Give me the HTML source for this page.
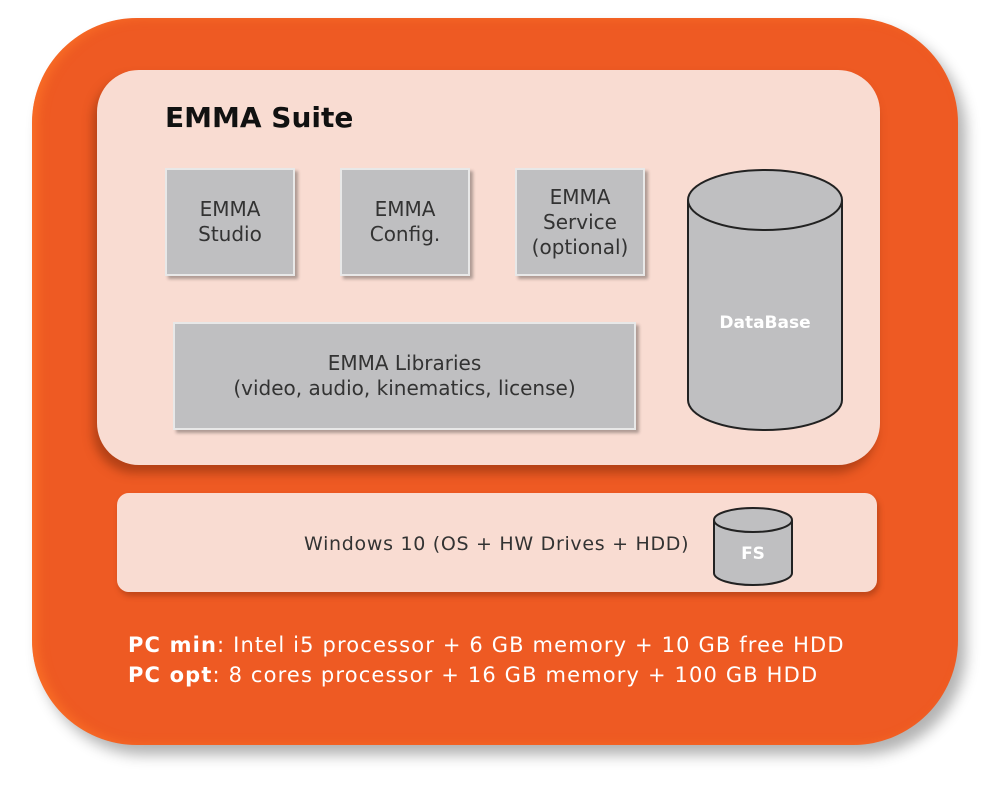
<!DOCTYPE html>
<html><head><style>
body{margin:0;width:1000px;height:786px;background:#fff;position:relative;overflow:hidden;font-family:"DejaVu Sans","Liberation Sans",sans-serif}
.abs{position:absolute}
.outer{left:32px;top:18px;width:926px;height:727px;border-radius:105px;background:#ee5a23;box-shadow:8px 10px 14px rgba(0,0,0,.3), inset 6px 0 10px rgba(255,120,40,.6)}
.suite{left:97px;top:70px;width:783px;height:395px;border-radius:42px;background:#f9dcd2;box-shadow:-4px 8px 10px rgba(120,40,10,.5)}
.win{left:117px;top:493px;width:760px;height:99px;border-radius:12px;background:#f9dcd2;box-shadow:2px 4px 6px rgba(120,40,10,.4)}
.box{background:#bfbfc1;border:2px solid #e8e8e8;box-shadow:3px 3px 3px rgba(0,0,0,.3);display:flex;align-items:center;justify-content:center;text-align:center;color:#333;font-size:20px;line-height:25px;box-sizing:border-box;white-space:nowrap}
.t{color:#fff;font-size:21px;letter-spacing:1.15px;white-space:nowrap}
</style></head><body>
<div class="abs outer"></div>
<div class="abs suite"></div>
<div class="abs" style="left:165px;top:101px;font-size:28px;font-weight:bold;color:#111">EMMA Suite</div>
<div class="abs box" style="left:165px;top:168px;width:130px;height:108px">EMMA<br>Studio</div>
<div class="abs box" style="left:340px;top:168px;width:130px;height:108px">EMMA<br>Config.</div>
<div class="abs box" style="left:515px;top:168px;width:130px;height:108px">EMMA<br>Service<br>(optional)</div>
<div class="abs box" style="left:173px;top:322px;width:463px;height:108px">EMMA Libraries<br>(video, audio, kinematics, license)</div>
<svg class="abs" style="left:0;top:0" width="1000" height="786">
<path d="M688,200 L688,400 A77,30 0 0 0 842,400 L842,200" fill="#bfbfc1" stroke="#222" stroke-width="2"/>
<ellipse cx="765" cy="200" rx="77" ry="30" fill="#bfbfc1" stroke="#222" stroke-width="2"/>
<text x="765" y="328" text-anchor="middle" fill="#fff" font-family="DejaVu Sans" font-weight="bold" font-size="17">DataBase</text>
</svg>
<div class="abs win"></div>
<div class="abs" style="left:304px;top:533px;font-size:19px;letter-spacing:0.7px;color:#333;white-space:nowrap">Windows 10 (OS + HW Drives + HDD)</div>
<svg class="abs" style="left:0;top:0" width="1000" height="786">
<path d="M714,520 L714,573 A39,12 0 0 0 792,573 L792,520" fill="#bfbfc1" stroke="#222" stroke-width="2"/>
<ellipse cx="753" cy="520" rx="39" ry="12" fill="#bfbfc1" stroke="#222" stroke-width="2"/>
<text x="753" y="559" text-anchor="middle" fill="#fff" font-family="DejaVu Sans" font-weight="bold" font-size="17">FS</text>
</svg>
<div class="abs t" style="left:128px;top:633px"><b>PC min</b>: Intel i5 processor + 6 GB memory + 10 GB free HDD</div>
<div class="abs t" style="left:128px;top:663px"><b>PC opt</b>: 8 cores processor + 16 GB memory + 100 GB HDD</div>
</body></html>
